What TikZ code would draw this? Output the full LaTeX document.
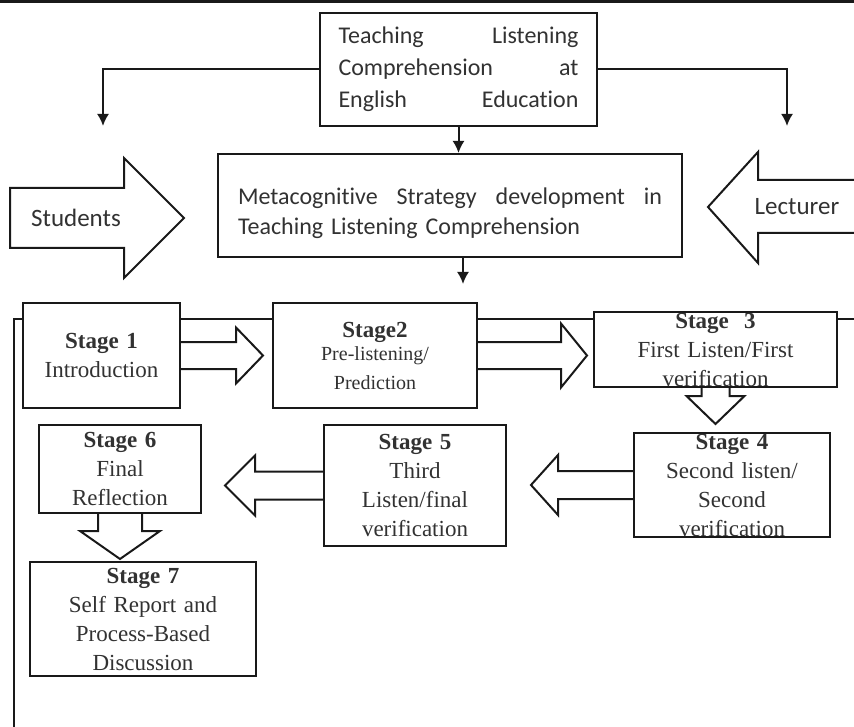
\documentclass[tikz,border=0pt]{standalone}
\usepackage{fontspec}
\setmainfont{Carlito}[Ligatures=NoCommon]
\newfontfamily\stagefont{Liberation Serif}
\usepackage{xcolor}
\usepackage{tikz}
\usetikzlibrary{arrows.meta,calc}
\definecolor{InkGray}{RGB}{50,50,50}
\definecolor{FrameBlack}{RGB}{25,25,25}

% hollow block arrow: start, end, gap, shaft half, head half, head length
\newcommand{\hollowarrow}[6]{%
  \coordinate (ha-tip) at ($(#2)!#3!(#1)$);
  \coordinate (ha-base) at ($(ha-tip)!#6!(#1)$);
  \draw[blockline] ($(#1)!#4!90:(#2)$) -- ($(ha-base)!#4!-90:(#1)$)
    -- ($(ha-base)!#5!-90:(#1)$) -- (ha-tip) -- ($(ha-base)!#5!90:(#1)$)
    -- ($(ha-base)!#4!90:(#1)$) -- ($(#1)!#4!-90:(#2)$);
}

\begin{document}
\begin{tikzpicture}[x=1pt, y=-1pt, >={Latex[length=12pt,width=12pt]},
    box/.style={draw=FrameBlack, line width=2pt, fill=white, text=InkGray},
    stagebox/.style n args={3}{box, minimum width=#1, text width=#1,
        minimum height=#2, inner xsep=0pt, inner ysep=#3, align=center,
        font=\stagefont\fontsize{23}{29}\selectfont},
    link/.style={draw=FrameBlack, line width=2pt, ->},
    blockline/.style={draw=FrameBlack, line width=2pt, line join=miter},
    bigtext/.style={text=InkGray, font=\fontsize{25}{30}\selectfont}]
    \useasboundingbox (0,0) rectangle (854,727);
    \fill[FrameBlack] (0,0) rectangle (854,3);

    % frame round the stages
    \draw[FrameBlack, line width=1.6pt] (14,740) -- (14,319) -- (870,319);

    \node[box, minimum width=277pt, minimum height=113pt, text width=240pt,
        align=left, inner xsep=18.5pt, font=\fontsize{24}{32}\selectfont]
        (top) at (458.5,69.5)
        {Teaching\hfill Listening\\Comprehension\hfill at\\English\hfill Education};
    \node[box, minimum width=464pt, minimum height=103pt, text width=424pt,
        align=left, text depth=19pt, font=\fontsize{24}{30}\selectfont]
        (mid) at (450,205.5)
        {Metacognitive\hfill Strategy\hfill development\hfill in\\Teaching Listening Comprehension};

    \draw[blockline, fill=white] (10,188) -- (124,188) -- (124,158) -- (184,218)
        -- (124,278) -- (124,248) -- (10,248) -- cycle;
    \node[bigtext] (students) at (76,218) {Students};
    \draw[blockline] (870,180) -- (758,180) -- (758,152) -- (708,207)
        -- (758,263) -- (758,233) -- (870,233);
    \node[bigtext] (lecturer) at (797,207) {Lecturer};

    \coordinate (leftdrop) at (103,126);
    \coordinate (rightdrop) at (787,126);
    \coordinate (flowin) at (463,284);
    \draw[link] (top.west) -| (leftdrop);
    \draw[link] (top.east) -| (rightdrop);
    \draw[link] (top.south) -- (top.south |- mid.north);
    \draw[link] (flowin |- mid.south) -- (flowin);

    % stages
    \node[stagebox={157pt}{105pt}{0pt}] (s1) at (101.5,355.5)
        {\textbf{Stage 1}\\Introduction};
    \node[stagebox={204pt}{105pt}{0pt}] (s2) at (375,355.5)
        {\textbf{Stage2}\\{\fontsize{20}{23}\selectfont Pre-listening/\\Prediction}};
    \node[stagebox={243pt}{75pt}{-3pt}] (s3) at (715.5,349.5)
        {\textbf{Stage\ \ 3}\\First Listen/First\\verification};
    \node[stagebox={196pt}{104pt}{-3pt}] (s4) at (732,485)
        {\textbf{Stage 4}\\Second listen/\\Second\\verification};
    \node[stagebox={182pt}{121pt}{0pt}] (s5) at (415,485.5)
        {\textbf{Stage 5}\\Third\\Listen/final\\verification};
    \node[stagebox={162pt}{88pt}{0pt}] (s6) at (120,469)
        {\textbf{Stage 6}\\Final\\Reflection};
    \node[stagebox={226pt}{114pt}{0pt}] (s7) at (143,619)
        {\textbf{Stage 7}\\Self Report and\\Process-Based\\Discussion};

    \hollowarrow{s1.east}{s1.east -| s2.west}{9pt}{13.5pt}{28pt}{27pt}
    \hollowarrow{s2.east}{s2.east -| s3.west}{6pt}{13.5pt}{32pt}{26pt}
    \hollowarrow{s3.south}{s3.south |- s4.north}{8pt}{14pt}{29pt}{28pt}
    \hollowarrow{s4.west}{s4.west -| s5.east}{24pt}{14pt}{30pt}{27pt}
    \hollowarrow{s5.west}{s5.west -| s6.east}{23pt}{14pt}{30pt}{30pt}
    \hollowarrow{s6.south}{s6.south |- s7.north}{2pt}{22pt}{40pt}{28pt}
\end{tikzpicture}
\end{document}
